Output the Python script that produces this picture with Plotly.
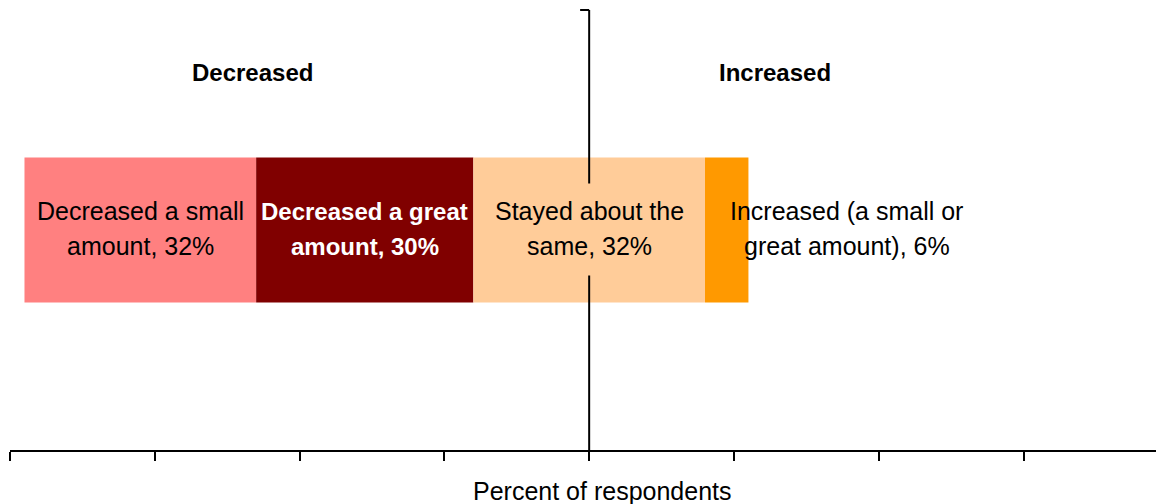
import plotly.graph_objects as go

categories = [
    "Decreased a small amount",
    "Decreased a great amount",
    "Stayed about the same",
    "Increased (a small or great amount)",
]
values = [32, 30, 32, 6]
colors = ["#FF8080", "#800000", "#FFCC99", "#FF9900"]
label_lines = [
    ["Decreased a small", "amount, 32%"],
    ["<b>Decreased a great</b>", "<b>amount, 30%</b>"],
    ["Stayed about the", "same, 32%"],
    ["Increased (a small or", "great amount), 6%"],
]
tick_vals = [-80, -60, -40, -20, 0, 20, 40, 60, 80]

# diverging layout: "stayed" is split around zero
stayed_half = values[2] / 2
bases = [
    -stayed_half - values[1] - values[0],
    -stayed_half - values[1],
    -stayed_half,
    stayed_half,
]

font = "Liberation Sans, Arial, sans-serif"
fig = go.Figure()
for cat, val, base, col in zip(categories, values, bases, colors):
    fig.add_trace(
        go.Bar(
            y=[0],
            x=[val],
            base=[base],
            orientation="h",
            name=cat,
            marker=dict(color=col, line=dict(width=0)),
            width=0.66,
            hoverinfo="name+x",
        )
    )

# centre line with small top tick
fig.add_shape(type="line", x0=0, x1=0, y0=0, y1=1, xref="x", yref="paper",
              line=dict(color="black", width=2), layer="above")
fig.add_shape(type="line", x0=-1.25, x1=0, y0=1, y1=1, xref="x", yref="paper",
              line=dict(color="black", width=2), layer="above")

# background box behind the "stayed" label (hides centre line)
fig.add_annotation(x=0, y=0, xref="x", yref="y", text=" ", showarrow=False,
                   width=200, height=89, bgcolor=colors[2], yshift=1)

label_x = [bases[0] + values[0] / 2, bases[1] + values[1] / 2, 0, 35.6]
label_col = ["black", "white", "black", "black"]
label_size = [25, 24, 25, 25]
for lx, lines, c, sz in zip(label_x, label_lines, label_col, label_size):
    for txt, ys in zip(lines, [19, -16]):
        fig.add_annotation(
            x=lx, y=0, xref="x", yref="y", text=txt, showarrow=False,
            font=dict(family=font, size=sz, color=c), yshift=ys,
        )

fig.add_annotation(x=-46.5, y=0.859, xref="x", yref="paper", text="<b>Decreased</b>",
                   showarrow=False, yanchor="middle",
                   font=dict(family=font, size=24, color="black"))
fig.add_annotation(x=25.7, y=0.859, xref="x", yref="paper", text="<b>Increased</b>",
                   showarrow=False, yanchor="middle",
                   font=dict(family=font, size=24, color="black"))

# axis title
fig.add_annotation(x=1.8, y=0, xref="x", yref="paper", text="Percent of respondents",
                   showarrow=False, yanchor="top", yshift=-25,
                   font=dict(family=font, size=25, color="black"))

fig.update_xaxes(
    range=[-80, 79.4],
    tickvals=tick_vals,
    showticklabels=False,
    ticks="outside",
    ticklen=9,
    tickwidth=2,
    tickcolor="black",
    showline=True,
    linecolor="black",
    linewidth=2,
    showgrid=False,
    zeroline=False,
)
fig.update_yaxes(range=[-1, 1], visible=False)

fig.update_layout(
    width=1156,
    height=496,
    margin=dict(l=2, r=0, t=2, b=54),
    plot_bgcolor="white",
    paper_bgcolor="white",
    showlegend=False,
    barmode="overlay",
    font=dict(family=font),
)

fig.write_html("out.html")
